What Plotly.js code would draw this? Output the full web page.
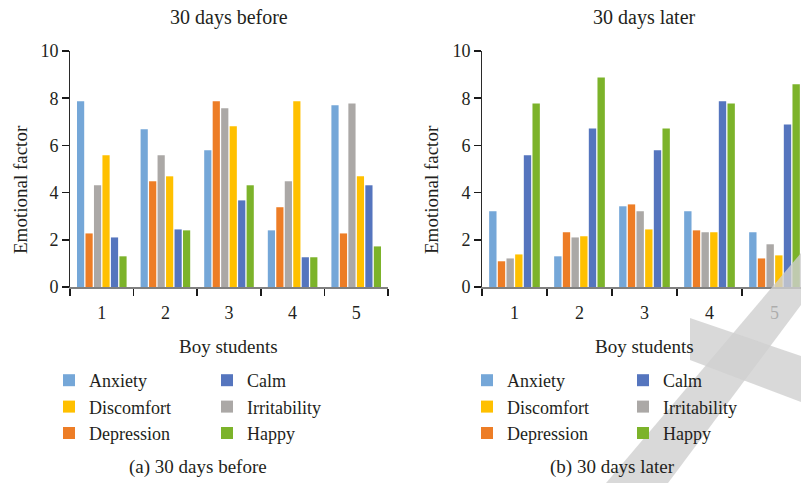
<!DOCTYPE html>
<html>
<head>
<meta charset="utf-8">
<script src="https://cdn.plot.ly/plotly-3.0.1.min.js"></script>
<style>html,body{margin:0;padding:0;background:#fff}</style>
</head>
<body>
<div id="chart" style="width:801px;height:483px"></div>
<script>
// ---- data ----
const students = ['1', '2', '3', '4', '5'];
const seriesNames = ['Anxiety', 'Depression', 'Irritability', 'Discomfort', 'Calm', 'Happy'];
// 30 days before
const beforeAnxiety      = [7.87, 6.68, 5.79, 2.40, 7.70];
const beforeDepression   = [2.27, 4.48, 7.87, 3.38, 2.27];
const beforeIrritability = [4.31, 5.58, 7.57, 4.48, 7.78];
const beforeDiscomfort   = [5.58, 4.69, 6.81, 7.87, 4.69];
const beforeCalm         = [2.10, 2.44, 3.67, 1.26, 4.31];
const beforeHappy        = [1.30, 2.40, 4.31, 1.26, 1.72];
// 30 days later
const laterAnxiety      = [3.21, 1.30, 3.42, 3.21, 2.32];
const laterDepression   = [1.09, 2.32, 3.50, 2.40, 1.21];
const laterIrritability = [1.21, 2.10, 3.21, 2.32, 1.81];
const laterDiscomfort   = [1.38, 2.15, 2.44, 2.32, 1.34];
const laterCalm         = [5.58, 6.72, 5.79, 7.87, 6.89];
const laterHappy        = [7.78, 8.88, 6.72, 7.78, 8.59];
const yTicks = [0, 2, 4, 6, 8, 10];

// ---- styles ----
const colors = {
  Anxiety: '#75A7D8', Depression: '#ED7D26', Irritability: '#ABA8A6',
  Discomfort: '#FFC000', Calm: '#5575BE', Happy: '#7CB32A'
};
// legend columns: col1 Anxiety, Discomfort, Depression; col2 Calm, Irritability, Happy
const legendCol = { Anxiety: 0, Discomfort: 0, Depression: 0, Calm: 1, Irritability: 1, Happy: 1 };
const legendRank = { Anxiety: 1, Discomfort: 2, Depression: 3, Calm: 1, Irritability: 2, Happy: 3 };
const FONT = 'Liberation Serif, Times New Roman, serif';
const TXT = '#231f20';

const beforeData = [beforeAnxiety, beforeDepression, beforeIrritability, beforeDiscomfort, beforeCalm, beforeHappy];
const laterData  = [laterAnxiety, laterDepression, laterIrritability, laterDiscomfort, laterCalm, laterHappy];

const traces = [];
function addChart(dataSet, xa, ya, legendBase) {
  seriesNames.forEach((name, i) => {
    const lg = legendBase + legendCol[name];
    traces.push({
      type: 'bar', name: name, x: students, y: dataSet[i],
      xaxis: xa, yaxis: ya,
      marker: { color: colors[name], line: { width: 0 } },
      legend: lg === 1 ? 'legend' : 'legend' + lg,
      legendrank: legendRank[name],
      hoverinfo: 'y'
    });
  });
}
addChart(beforeData, 'x', 'y', 1);
addChart(laterData, 'x2', 'y2', 3);

const plotTop = 51, plotBottom = 287, H = 236;
const py = p => (plotBottom - p) / H; // pixel y -> paper y
const px = p => p / 801;

const xaxisBase = {
  type: 'category', showgrid: false, zeroline: false,
  showline: true, linecolor: '#808080', linewidth: 1.5,
  ticks: 'outside', tickson: 'boundaries', ticklen: 7, tickwidth: 1.5, tickcolor: '#1a1a1a',
  tickfont: { family: FONT, size: 18, color: TXT }, ticklabelstandoff: 9,
  fixedrange: true
};
const yaxisBase = {
  range: [0, 10], tickvals: yTicks, showgrid: false, zeroline: false,
  showline: true, linecolor: '#2a2a2a', linewidth: 1,
  ticks: 'outside', ticklen: 7, tickwidth: 1.5, tickcolor: '#1a1a1a',
  tickfont: { family: FONT, size: 18, color: TXT },
  fixedrange: true
};

const legendBase = {
  orientation: 'v', xanchor: 'left', yanchor: 'top',
  bgcolor: 'rgba(0,0,0,0)', borderwidth: 0,
  font: { family: FONT, size: 18, color: TXT },
  traceorder: 'normal', itemclick: false, itemdoubleclick: false,
  tracegroupgap: 0, itemwidth: 30
};
const legTop = py(362);

function ann(text, x, y, size, angle) {
  return {
    text: text, xref: 'paper', yref: 'paper', x: x, y: y,
    xanchor: 'center', yanchor: 'middle', showarrow: false,
    textangle: angle || 0,
    font: { family: FONT, size: size, color: TXT }
  };
}
function pathFromPx(pts) {
  return 'M' + pts.map(p => px(p[0]).toFixed(4) + ',' + py(p[1]).toFixed(4)).join('L') + 'Z';
}
const wm = { type: 'path', xref: 'paper', yref: 'paper', layer: 'above',
  fillcolor: '#cfcfcf', opacity: 0.8, line: { width: 0 } };

const layout = {
  width: 801, height: 483,
  margin: { l: 0, r: 0, t: plotTop, b: 483 - plotBottom },
  paper_bgcolor: '#ffffff', plot_bgcolor: '#ffffff',
  barmode: 'group', bargap: 0.2, bargroupgap: 0.15,
  showlegend: true,
  xaxis: Object.assign({}, xaxisBase, { domain: [px(70), px(388)], range: [-0.5, 4.5], anchor: 'y' }),
  yaxis: Object.assign({}, yaxisBase, { domain: [0, 1], anchor: 'x' }),
  xaxis2: Object.assign({}, xaxisBase, { domain: [px(482), 1], range: [-0.5, 4.5 - 6 / 65], anchor: 'y2' }),
  yaxis2: Object.assign({}, yaxisBase, { domain: [0, 1], anchor: 'x2' }),
  legend:  Object.assign({}, legendBase, { x: px(49),  y: legTop }),
  legend2: Object.assign({}, legendBase, { x: px(207), y: legTop }),
  legend3: Object.assign({}, legendBase, { x: px(467), y: legTop }),
  legend4: Object.assign({}, legendBase, { x: px(623), y: legTop }),
  shapes: [
    Object.assign({}, wm, { path: pathFromPx([[801, 253], [801, 305], [668, 483], [606, 483]]) }),
    Object.assign({}, wm, { path: pathFromPx([[690, 318], [801, 356], [801, 402], [690, 360]]) })
  ],
  annotations: [
    ann('30 days before', px(229), py(18), 20),
    ann('30 days later', px(644), py(18), 20),
    ann('Emotional factor', px(20), py(190), 19, -90),
    ann('Emotional factor', px(431), py(190), 19, -90),
    ann('Boy students', px(229), py(346), 19),
    ann('Boy students', px(644), py(346), 19),
    ann('(a) 30 days before', px(198), py(467), 19),
    ann('(b) 30 days later', px(612), py(467), 19)
  ]
};

Plotly.newPlot('chart', traces, layout, { displayModeBar: false, staticPlot: true });
</script>
</body>
</html>
